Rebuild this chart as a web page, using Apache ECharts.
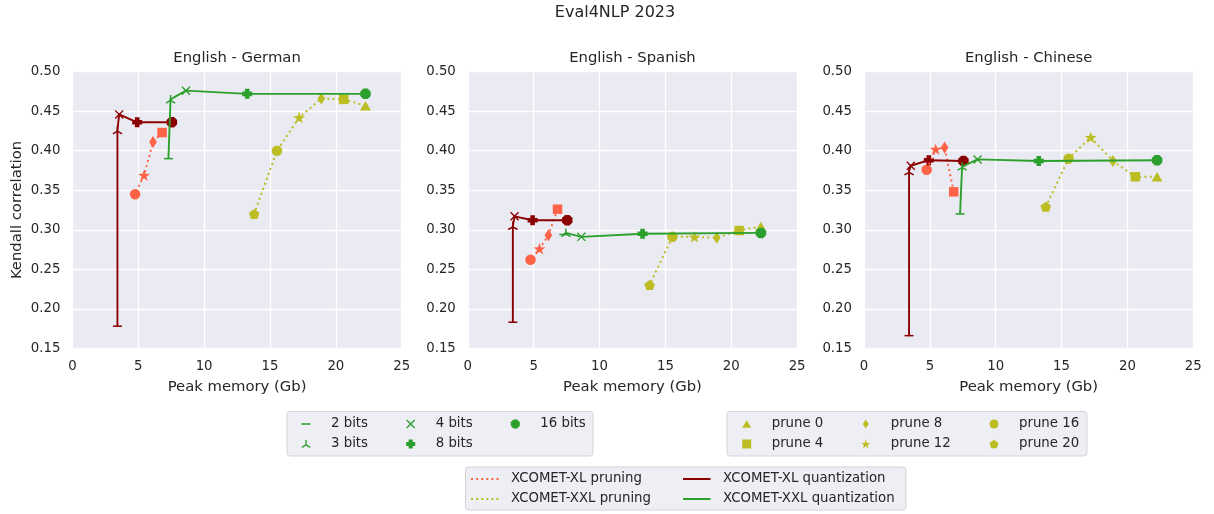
<!DOCTYPE html>
<html>
<head>
<meta charset="utf-8">
<script src="https://cdn.jsdelivr.net/npm/echarts@6/dist/echarts.min.js"></script>
<style>html,body{margin:0;padding:0;background:#fff;}#chart{width:1214px;height:514px;}</style>
</head>
<body>
<div id="chart"></div>
<script>
// ---------- data ----------
const mainTitle = 'Eval4NLP 2023';
const panelTitles = ['English - German', 'English - Spanish', 'English - Chinese'];
const xAxisTitle = 'Peak memory (Gb)';
const yAxisTitle = 'Kendall correlation';
const seriesNames = ['XCOMET-XL pruning', 'XCOMET-XXL pruning', 'XCOMET-XL quantization', 'XCOMET-XXL quantization'];
const bitLabels = ['2 bits', '3 bits', '4 bits', '8 bits', '16 bits'];
const pruneLabels = ['prune 0', 'prune 4', 'prune 8', 'prune 12', 'prune 16', 'prune 20'];
const xlPruneLabels = ['prune 4', 'prune 8', 'prune 12', 'prune 16'];

// peak memory (Gb)
const xlQuantMem = [3.42, 3.42, 3.55, 4.92, 7.55];
const xxlQuantMem = [7.29, 7.45, 8.62, 13.27, 22.25];
const xlPruneMem = [6.81, 6.12, 5.44, 4.76];
const xxlPruneMem = [22.25, 20.6, 18.9, 17.21, 15.53, 13.8];

// Kendall correlation: English - German
const deXlQuant = [0.178, 0.426, 0.446, 0.436, 0.436];
const deXxlQuant = [0.390, 0.465, 0.476, 0.472, 0.472];
const deXlPrune = [0.423, 0.411, 0.369, 0.345];
const deXxlPrune = [0.457, 0.465, 0.466, 0.442, 0.400, 0.320];
// English - Spanish
const esXlQuant = [0.183, 0.305, 0.317, 0.312, 0.312];
const esXxlQuant = [0.294, 0.296, 0.291, 0.295, 0.296];
const esXlPrune = [0.326, 0.293, 0.276, 0.262];
const esXxlPrune = [0.304, 0.299, 0.290, 0.291, 0.291, 0.230];
// English - Chinese
const zhXlQuant = [0.166, 0.374, 0.381, 0.388, 0.387];
const zhXxlQuant = [0.320, 0.380, 0.389, 0.387, 0.388];
const zhXlPrune = [0.348, 0.404, 0.402, 0.376];
const zhXxlPrune = [0.367, 0.367, 0.387, 0.417, 0.390, 0.329];

const xTicks = [0, 25, 5];
const yTicks = [0.15, 0.50, 0.05];

// ---------- styling ----------
const FONT = 'DejaVu Sans';
const TXT = '#262626';
const C_XL_PRUNE = '#ff6347';
const C_XXL_PRUNE = '#bcbd22';
const C_XL_QUANT = '#8b0000';
const C_XXL_QUANT = '#2ca02c';

function f(n) { return n.toFixed(2); }
function poly(pts) { return 'M' + pts.map(p => f(p[0]) + ',' + f(p[1])).join(' L') + ' Z'; }
function regular(n, r, rot) {
  const pts = [];
  for (let i = 0; i < n; i++) {
    const a = rot + i * 2 * Math.PI / n;
    pts.push([50 + r * Math.cos(a), 50 + r * Math.sin(a)]);
  }
  return pts;
}
function arm(x1, y1, x2, y2, t) {
  const dx = x2 - x1, dy = y2 - y1, L = Math.hypot(dx, dy);
  const nx = -dy / L * t / 2, ny = dx / L * t / 2;
  return poly([[x1 + nx, y1 + ny], [x2 + nx, y2 + ny], [x2 - nx, y2 - ny], [x1 - nx, y1 - ny]]);
}
function starPts() {
  const pts = [];
  for (let i = 0; i < 10; i++) {
    const r = i % 2 === 0 ? 50 : 20;
    const a = -Math.PI / 2 + i * Math.PI / 5;
    pts.push([50 + r * Math.cos(a), 50 + r * Math.sin(a)]);
  }
  return pts;
}
const SYM = {
  hline: 'path://M0,0 L100,0 L100,17 L0,17 Z',
  tri: 'path://' + arm(50, 50, 50, 0, 14) + ' ' + arm(50, 50, 6.7, 75, 14) + ' ' + arm(50, 50, 93.3, 75, 14),
  x: 'path://' + arm(0, 0, 100, 100, 17) + ' ' + arm(0, 100, 100, 0, 17),
  plus: 'path://M27,0 L73,0 L73,27 L100,27 L100,73 L73,73 L73,100 L27,100 L27,73 L0,73 L0,27 L27,27 Z',
  oct: 'path://' + poly(regular(8, 50, Math.PI / 8)),
  triangle: 'path://M50,0 L100,86 L0,86 Z',
  square: 'path://M0,0 L100,0 L100,100 L0,100 Z',
  diamond: 'path://M50,0 L82,50 L50,100 L18,50 Z',
  star: 'path://' + poly(starPts()),
  circle: 'circle',
  pent: 'path://' + poly(regular(5, 50, -Math.PI / 2))
};
const bitSym = { '2 bits': ['hline', 9], '3 bits': ['tri', 10], '4 bits': ['x', 9], '8 bits': ['plus', 10], '16 bits': ['oct', 10.5] };
const pruneSym = { 'prune 0': ['triangle', 11], 'prune 4': ['square', 9.5], 'prune 8': ['diamond', 12], 'prune 12': ['star', 12], 'prune 16': ['circle', 10.5], 'prune 20': ['pent', 10.5] };

const panels = [
  { xlQuant: deXlQuant, xxlQuant: deXxlQuant, xlPrune: deXlPrune, xxlPrune: deXxlPrune },
  { xlQuant: esXlQuant, xxlQuant: esXxlQuant, xlPrune: esXlPrune, xxlPrune: esXxlPrune },
  { xlQuant: zhXlQuant, xxlQuant: zhXxlQuant, xlPrune: zhXlPrune, xxlPrune: zhXxlPrune }
];
const gridLefts = [72.4, 467.8, 864];
const GRID_TOP = 71.7, GRID_H = 276.6, GRID_W = 329.3;

const grids = [], xAxes = [], yAxes = [], series = [], graphics = [];
const zip = (xs, ys) => xs.map((x, i) => [x, ys[i]]);

panels.forEach((p, i) => {
  grids.push({ left: gridLefts[i], top: GRID_TOP, width: GRID_W, height: GRID_H, show: true, backgroundColor: '#eaeaf2', borderWidth: 0 });
  xAxes.push({
    gridIndex: i, type: 'value', min: xTicks[0], max: xTicks[1], interval: xTicks[2],
    name: xAxisTitle, nameLocation: 'middle', nameGap: 31,
    nameTextStyle: { color: TXT, fontFamily: FONT, fontSize: 14.8 },
    axisLine: { show: false }, axisTick: { show: false },
    axisLabel: { color: TXT, fontFamily: FONT, fontSize: 13.3, margin: 12 },
    splitLine: { show: true, lineStyle: { color: '#ffffff', width: 1.3 } }
  });
  yAxes.push({
    gridIndex: i, type: 'value', min: yTicks[0], max: yTicks[1], interval: yTicks[2],
    name: i === 0 ? yAxisTitle : '', nameLocation: 'middle', nameGap: 48,
    nameTextStyle: { color: TXT, fontFamily: FONT, fontSize: 14.8 },
    axisLine: { show: false }, axisTick: { show: false },
    axisLabel: { color: TXT, fontFamily: FONT, fontSize: 13.3, margin: 12, formatter: v => v.toFixed(2) },
    splitLine: { show: true, lineStyle: { color: '#ffffff', width: 1.3 } }
  });
  graphics.push({ type: 'text', x: gridLefts[i] + GRID_W / 2, y: 58, z: 10,
    style: { text: panelTitles[i], fill: TXT, font: '14.8px "' + FONT + '"', textAlign: 'center', textVerticalAlign: 'middle' } });

  const lineSeries = (name, data, color, dotted) => ({
    type: 'line', name, xAxisIndex: i, yAxisIndex: i, data, symbol: 'none', showSymbol: false,
    animation: false, silent: true, color,
    lineStyle: { color, width: dotted ? 2 : 1.9, type: dotted ? [2, 3.3] : 'solid' }
  });
  const markerSeries = (name, pt, sym, color) => ({
    type: 'scatter', name, xAxisIndex: i, yAxisIndex: i, data: [pt],
    symbol: SYM[sym[0]], symbolSize: sym[1], symbolKeepAspect: true,
    animation: false, silent: true, itemStyle: { color, opacity: 1 }
  });

  // XL pruning
  series.push(lineSeries(seriesNames[0], zip(xlPruneMem, p.xlPrune), C_XL_PRUNE, true));
  xlPruneLabels.forEach((lab, k) => series.push(markerSeries('XL ' + lab, [xlPruneMem[k], p.xlPrune[k]], pruneSym[lab], C_XL_PRUNE)));
  // XXL pruning
  series.push(lineSeries(seriesNames[1], zip(xxlPruneMem, p.xxlPrune), C_XXL_PRUNE, true));
  pruneLabels.forEach((lab, k) => series.push(markerSeries(lab, [xxlPruneMem[k], p.xxlPrune[k]], pruneSym[lab], C_XXL_PRUNE)));
  // XL quantization
  series.push(lineSeries(seriesNames[2], zip(xlQuantMem, p.xlQuant), C_XL_QUANT, false));
  bitLabels.forEach((lab, k) => series.push(markerSeries('XL ' + lab, [xlQuantMem[k], p.xlQuant[k]], bitSym[lab], C_XL_QUANT)));
  // XXL quantization
  series.push(lineSeries(seriesNames[3], zip(xxlQuantMem, p.xxlQuant), C_XXL_QUANT, false));
  bitLabels.forEach((lab, k) => series.push(markerSeries(lab, [xxlQuantMem[k], p.xxlQuant[k]], bitSym[lab], C_XXL_QUANT)));
});

graphics.push({ type: 'text', x: 615, y: 13, z: 10,
  style: { text: mainTitle, fill: TXT, font: '16px "' + FONT + '"', textAlign: 'center', textVerticalAlign: 'middle' } });

// legend boxes
const boxStyle = { fill: '#eeeef5', stroke: '#d5d5d8', lineWidth: 1 };
graphics.push({ type: 'rect', z: 0, shape: { x: 287, y: 411.5, width: 306, height: 44.5, r: 3 }, style: boxStyle });
graphics.push({ type: 'rect', z: 0, shape: { x: 727, y: 411.5, width: 360, height: 44.5, r: 3 }, style: boxStyle });
graphics.push({ type: 'rect', z: 0, shape: { x: 465.5, y: 467, width: 440.5, height: 43, r: 3 }, style: boxStyle });

const legTxt = (pad) => ({ color: TXT, fontFamily: FONT, fontSize: 13.3, lineHeight: 16, padding: [0, 0, 0, pad] });
function markerLegend(names, symMap, color, left, top) {
  return {
    orient: 'vertical', left, top, padding: 0, itemGap: 4, itemWidth: 9, itemHeight: 9,
    selectedMode: false, z: 10, symbolKeepAspect: true,
    textStyle: legTxt(15.5),
    data: names.map(n => ({ name: n, icon: SYM[symMap[n][0]], itemStyle: { color, borderWidth: 0 } }))
  };
}
let dots = '';
for (let k = 0; k < 6; k++) { const x0 = k * 5.1; dots += 'M' + f(x0) + ',0 L' + f(x0 + 2) + ',0 L' + f(x0 + 2) + ',2 L' + f(x0) + ',2 Z '; }
const DOT_ICON = 'path://' + dots;
const SOLID_ICON = 'path://M0,0 L27.5,0 L27.5,2 L0,2 Z';
function lineLegend(items, left, top) {
  return {
    orient: 'vertical', left, top, padding: 0, itemGap: 4, itemWidth: 27.5, itemHeight: 10,
    selectedMode: false, z: 10, symbolKeepAspect: true,
    textStyle: legTxt(7.5),
    data: items.map(it => ({ name: it[0], icon: it[1], itemStyle: { color: it[2], borderWidth: 0 } }))
  };
}
const legends = [
  markerLegend(['2 bits', '3 bits'], bitSym, C_XXL_QUANT, 301.5, 416),
  markerLegend(['4 bits', '8 bits'], bitSym, C_XXL_QUANT, 406.2, 416),
  markerLegend(['16 bits'], bitSym, C_XXL_QUANT, 510.8, 416),
  markerLegend(['prune 0', 'prune 4'], pruneSym, C_XXL_PRUNE, 742.2, 416),
  markerLegend(['prune 8', 'prune 12'], pruneSym, C_XXL_PRUNE, 861.2, 416),
  markerLegend(['prune 16', 'prune 20'], pruneSym, C_XXL_PRUNE, 989.5, 416),
  lineLegend([[seriesNames[0], DOT_ICON, C_XL_PRUNE], [seriesNames[1], DOT_ICON, C_XXL_PRUNE]], 471, 471),
  lineLegend([[seriesNames[2], SOLID_ICON, C_XL_QUANT], [seriesNames[3], SOLID_ICON, C_XXL_QUANT]], 683, 471)
];

const chart = echarts.init(document.getElementById('chart'), null, { renderer: 'canvas' });
chart.setOption({
  backgroundColor: '#ffffff',
  animation: false,
  textStyle: { fontFamily: FONT },
  grid: grids, xAxis: xAxes, yAxis: yAxes,
  legend: legends,
  graphic: graphics,
  series
});
</script>
</body>
</html>
